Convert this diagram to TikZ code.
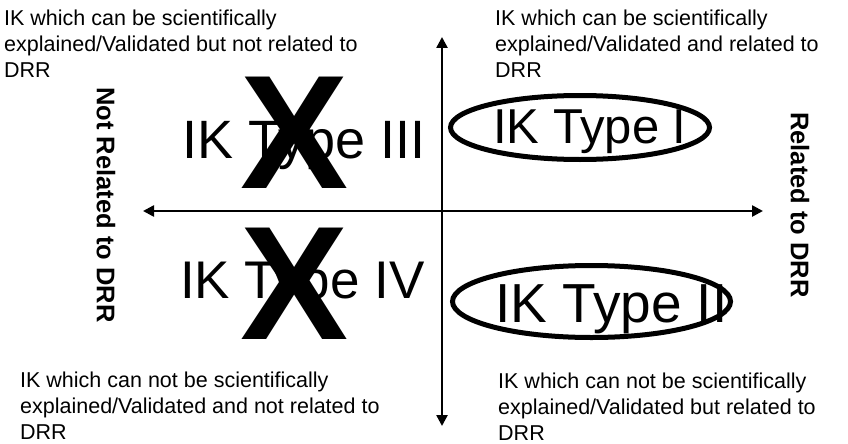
\documentclass[tikz,border=0pt]{standalone}
\usepackage{fontspec}
\setmainfont{Liberation Sans}
\usetikzlibrary{arrows.meta}
\begin{document}
\begin{tikzpicture}[x=1pt,y=-1pt,
  note/.style={anchor=north west,inner sep=0pt,align=left,font=\fontsize{21.5}{26}\selectfont},
  typelabel/.style={anchor=base west,inner sep=0pt},
  cross/.style={inner sep=0pt,font=\fontsize{162}{162}\selectfont\bfseries},
  sidelabel/.style={inner sep=0pt,rotate=-90,font=\fontsize{25.5}{28}\selectfont\bfseries},
  axis/.style={line width=2.5pt,-{Triangle[width=11pt,length=11pt]}},
  ring/.style={line width=5pt}]
  \useasboundingbox (0,0) rectangle (848,444);

  % quadrant descriptions
  \node[note] (tl) at (4,10) {IK which can be scientifically\\explained/Validated but not related to\\DRR};
  \node[note] (tr) at (495,10) {IK which can be scientifically\\explained/Validated and related to\\DRR};
  \node[note] (bl) at (20,372) {IK which can not be scientifically\\explained/Validated and not related to\\DRR};
  \node[note] (br) at (498,373) {IK which can not be scientifically\\explained/Validated but related to\\DRR};

  % axes
  \coordinate (c) at (442,211);
  \coordinate (top) at (442,37);
  \coordinate (bot) at (442,426);
  \coordinate (lft) at (143,211);
  \coordinate (rgt) at (763,211);
  \draw[axis] (c) -- (top);
  \draw[axis] (c) -- (bot);
  \draw[axis] (c) -- (lft);
  \draw[axis] (c) -- (rgt);

  % side labels
  \node[sidelabel] (notrel) at (106,205) {Not Related to DRR};
  \node[sidelabel] (rel) at (800,205) {Related to DRR};

  % IK types
  \node[typelabel,font=\fontsize{54}{54}\selectfont] (t3) at (182,158) {IK Type III};
  \node[typelabel,font=\fontsize{53}{53}\selectfont] (t4) at (180,298) {IK Type IV};
  \node[typelabel,font=\fontsize{49}{49}\selectfont] (t1) at (493,143) {IK Type I};
  \node[typelabel,font=\fontsize{55}{55}\selectfont] (t2) at (495,322) {IK Type II};

  % rejected types
  \node[cross] (x3) at (295,133) {X};
  \node[cross] (x4) at (295,284) {X};

  % accepted types
  \draw[ring] (580,127.5) ellipse [x radius=129.5, y radius=32];
  \draw[ring] (591.5,301.5) ellipse [x radius=139, y radius=36];
\end{tikzpicture}
\end{document}
